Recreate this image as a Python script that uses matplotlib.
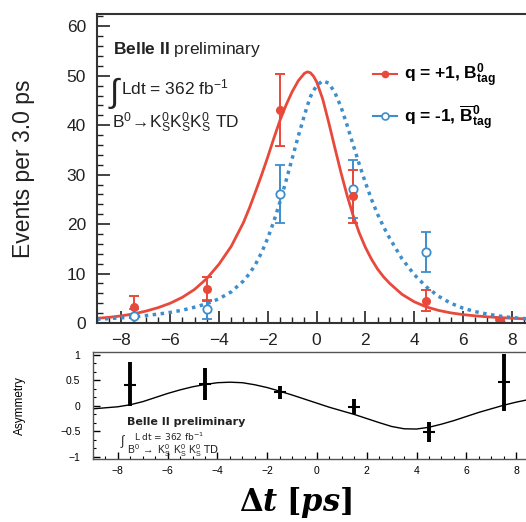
import matplotlib
matplotlib.use('Agg')
import matplotlib.pyplot as plt
from matplotlib.lines import Line2D
from matplotlib.ticker import MultipleLocator, AutoMinorLocator

plt.rcParams['font.family'] = ['Liberation Sans', 'DejaVu Sans']
plt.rcParams['mathtext.fontset'] = 'custom'
plt.rcParams['mathtext.rm'] = 'Liberation Sans'
plt.rcParams['mathtext.it'] = 'Liberation Sans:italic'
plt.rcParams['mathtext.bf'] = 'Liberation Sans:bold'

red = '#e8493b'
blue = '#3e8ecb'

# binned events, q = +1 (B0 tag) and q = -1 (B0bar tag)
bin_x = [-7.5, -4.5, -1.5, 1.5, 4.5, 7.5]
plus_y = [3.3, 6.8, 43.0, 25.6, 4.5, 0.4]
plus_lo = [2.2, 2.4, 7.2, 5.3, 2.1, 0.4]
plus_hi = [2.2, 2.6, 7.3, 5.3, 2.1, 0.6]
minus_y = [1.4, 2.8, 26.0, 27.2, 14.4, 0.2]
minus_lo = [1.4, 2.05, 5.8, 5.9, 4.0, 0.2]
minus_hi = [1.4, 1.8, 6.0, 5.7, 4.0, 0.4]

# fit curves
curve_x = [-9, -8.5, -8, -7.5, -7, -6.5, -6, -5.5, -5, -4.5, -4, -3.5, -3,
           -2.75, -2.5, -2.25, -2, -1.75, -1.5, -1.25, -1, -0.75, -0.5, -0.375,
           -0.25, -0.125, 0, 0.25, 0.5, 0.75, 1, 1.25, 1.5, 1.75, 2, 2.25, 2.5,
           2.75, 3, 3.5, 4, 4.5, 5, 5.5, 6, 6.5, 7, 7.5, 8, 8.5, 9]
plus_curve = [0.95, 1.15, 1.45, 1.85, 2.4, 3.1, 4.0, 5.2, 6.8, 9.0, 11.9, 15.5, 20.3,
              23.3, 26.6, 30.0, 33.6, 37.4, 41.0, 44.1, 46.8, 49.0, 50.5, 50.8,
              50.6, 49.9, 48.8, 45.3, 40.5, 35.4, 30.4, 25.8, 21.7, 18.2, 15.3, 12.9, 10.9,
              9.3, 8.0, 5.8, 4.3, 3.25, 2.55, 2.05, 1.7, 1.45, 1.25, 1.1, 0.97, 0.86, 0.77]
minus_curve = [0.75, 0.9, 1.05, 1.25, 1.5, 1.8, 2.15, 2.6, 3.2, 3.9, 4.9, 6.3, 8.5,
               10.0, 11.9, 14.3, 17.2, 20.6, 24.5, 28.8, 33.3, 37.8, 42.0, 44.0,
               45.8, 47.0, 48.0, 49.0, 48.5, 46.6, 43.7, 40.0, 36.0, 32.1, 28.4, 25.0, 22.0,
               19.4, 17.1, 13.0, 9.8, 7.3, 5.4, 4.0, 3.0, 2.3, 1.8, 1.4, 1.1, 0.9, 0.75]

# asymmetry panel
asym_y = [0.41, 0.42, 0.27, -0.02, -0.51, 0.46]
asym_lo = [0.42, 0.31, 0.14, 0.15, 0.20, 0.57]
asym_hi = [0.44, 0.32, 0.11, 0.16, 0.20, 0.56]
asym_curve_x = [-9, -8.5, -8, -7.5, -7, -6.5, -6, -5.5, -5, -4.5, -4, -3.5, -3, -2.5, -2,
                -1.5, -1, -0.5, 0, 0.5, 1, 1.5, 2, 2.5, 3, 3.5, 4, 4.5, 5, 5.5, 6, 6.5,
                7, 7.5, 8, 8.5, 9]
asym_curve = [-0.06, -0.04, -0.02, 0.02, 0.08, 0.16, 0.24, 0.31, 0.37, 0.415, 0.45, 0.46,
              0.45, 0.41, 0.355, 0.285, 0.21, 0.13, 0.05, -0.03, -0.1, -0.17, -0.25, -0.33,
              -0.405, -0.45, -0.455, -0.42, -0.36, -0.29, -0.21, -0.13, -0.06, 0.01, 0.07,
              0.12, 0.16]

fig = plt.figure(figsize=(5.26, 5.22), dpi=100)
ax = fig.add_axes([0.1844, 0.3812, 0.835, 0.592])
ax2 = fig.add_axes([0.1768, 0.1207, 0.8517, 0.205])

# top panel
ax.plot(curve_x, plus_curve, color=red, lw=2)
ax.plot(curve_x, minus_curve, color=blue, lw=2.5, ls=(0, (1, 1.3)))
ax.errorbar(bin_x, minus_y, yerr=[minus_lo, minus_hi], fmt='o', color=blue, ms=6,
            mfc='white', mec=blue, mew=1.3, capsize=3.5, elinewidth=1.4, capthick=1.4)
ax.errorbar(bin_x, plus_y, yerr=[plus_lo, plus_hi], fmt='o', color=red, ms=5.5,
            capsize=3.5, elinewidth=1.4, capthick=1.4)

ax.set_xlim(-9, 9)
ax.set_ylim(0, 62.5)
ax.xaxis.set_major_locator(MultipleLocator(2))
ax.xaxis.set_minor_locator(MultipleLocator(0.5))
ax.yaxis.set_major_locator(MultipleLocator(10))
ax.yaxis.set_minor_locator(MultipleLocator(2))
ax.tick_params(which='both', direction='in', top=False, right=False, colors='#222')
ax.tick_params(which='major', length=9, width=1.2, labelsize=12.5)
ax.tick_params(which='minor', length=4.5, width=1)
ax.tick_params(axis='x', pad=7)
ax.tick_params(axis='y', pad=8)
for s in ax.spines.values():
    s.set_linewidth(1.5)
    s.set_color('#333')
ax.set_ylabel('Events per 3.0 ps', fontsize=16.5, color='#222')
ax.yaxis.set_label_coords(-0.141, 0.5)

ax.text(0.036, 0.87, r'$\mathbf{Belle\ II}$ preliminary', transform=ax.transAxes,
        fontsize=12.5, color='#222')
ax.text(0.026, 0.715, r'$\int$', transform=ax.transAxes, fontsize=24, color='#222')
ax.text(0.055, 0.74, r'Ldt = 362 fb$^{\mathregular{-1}}$', transform=ax.transAxes,
        fontsize=12.5, color='#222')
ax.text(0.034, 0.63, r'$\mathrm{B^0\!\rightarrow\! K^0_S K^0_S K^0_S}$ TD',
        transform=ax.transAxes, fontsize=12.5, color='#222')

handles = [Line2D([], [], color=red, lw=1.5, marker='o', ms=4.5),
           Line2D([], [], color=blue, lw=1.5, marker='o', ms=5, mfc='white', mew=1.2)]
labels = [r'q = +1, $\mathbf{B^0_{tag}}$', r'q = -1, $\mathbf{\overline{B}^0_{tag}}$']
ax.legend(handles, labels, loc='upper left', bbox_to_anchor=(0.628, 0.845),
          frameon=False, prop={'weight': 'bold', 'size': 12.5}, handlelength=1.4,
          handletextpad=0.4, labelspacing=0.75, borderaxespad=0, borderpad=0)

# asymmetry panel
ax2.plot(asym_curve_x, asym_curve, color='black', lw=1)
ax2.errorbar(bin_x, asym_y, yerr=[asym_lo, asym_hi], fmt='_', color='black', ms=8,
             mew=1.5, elinewidth=2.8, capsize=0)
ax2.set_xlim(-9, 9)
ax2.set_ylim(-1.04, 1.05)
ax2.xaxis.set_major_locator(MultipleLocator(2))
ax2.xaxis.set_minor_locator(MultipleLocator(0.5))
ax2.set_yticks([-1, -0.5, 0, 0.5, 1], ['\u22121', '\u22120.5', '0', '0.5', '1'])
ax2.yaxis.set_minor_locator(AutoMinorLocator(3))
ax2.tick_params(which='both', direction='in', top=False, right=False, labelsize=7.5)
ax2.tick_params(which='major', length=5, width=1)
ax2.tick_params(which='minor', length=2.5, width=0.8)
ax2.tick_params(axis='y', pad=9)
ax2.tick_params(axis='x', pad=5)
for s in ax2.spines.values():
    s.set_linewidth(1)
    s.set_color('#555')
ax2.set_ylabel('Asymmetry', fontsize=8.5, family=['Liberation Sans Narrow', 'Liberation Sans'])
ax2.yaxis.set_label_coords(-0.15, 0.5)

ax2.text(-7.65, -0.37, 'Belle II preliminary', fontsize=8, weight='bold',
         family='DejaVu Sans', color='#222')
ax2.text(-7.9, -0.76, r'$\int$', fontsize=9, color='#222')
ax2.text(-7.35, -0.69, r'L dt = 362 fb$^{\mathregular{-1}}$', fontsize=6.5,
         family='DejaVu Sans', color='#222')
ax2.text(-7.65, -0.94, r'$\mathrm{B^0\ \rightarrow\ K^0_S\ K^0_S\ K^0_S}$ TD', fontsize=7.5,
         family='DejaVu Sans', color='#222')

fig.text(0.561, 0.038, r'$\mathbf{\Delta}\mathbfit{t}\ \mathbf{[}\mathbfit{ps}\mathbf{]}$',
         fontsize=22, ha='center', va='center', math_fontfamily='dejavuserif')

fig.savefig('out.png', dpi=100)
